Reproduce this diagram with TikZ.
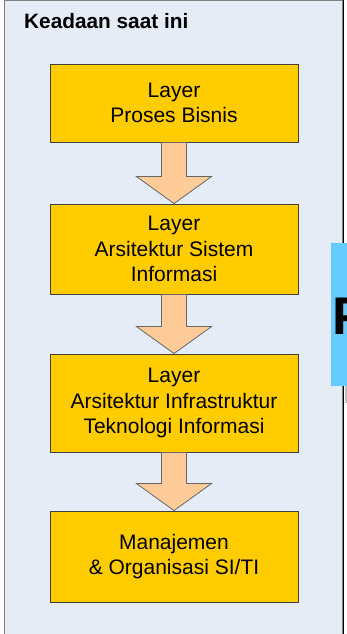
\documentclass[tikz,border=0pt]{standalone}
\usepackage{fontspec}
\setmainfont{Liberation Sans}
\usetikzlibrary{calc}
\definecolor{panelbg}{HTML}{E6ECF6}
\definecolor{layerfill}{HTML}{FFCC00}
\definecolor{arrowfill}{HTML}{FFCC99}
\definecolor{nextfill}{HTML}{66CCFF}
\begin{document}
\begin{tikzpicture}[x=1pt,y=-1pt,
  layer/.style={draw=black!75, fill=layerfill, line width=0.9pt, minimum width=248pt,
    align=center, inner sep=0pt, font=\fontsize{21}{25.5}\selectfont},
  blockarrow/.style={draw=black!60, fill=arrowfill, line width=0.8pt, line join=miter}]
\useasboundingbox (0,0) rectangle (347,634);
\node[draw=black!50, fill=panelbg, line width=1.2pt, minimum width=338pt, minimum height=660pt, inner sep=0pt] (frame) at (173.5,330.5) {};
\draw[black, line width=1pt] (frame.north east) -- (frame.south east);
\node[anchor=base west, inner sep=0pt, font=\bfseries\fontsize{20.8}{25}\selectfont] (title) at (24,28.7) {Keadaan saat ini};
\node[layer, minimum height=78pt] (l1) at (174,103) {Layer\\Proses Bisnis};
\node[layer, minimum height=90pt] (l2) at (174,249) {Layer\\Arsitektur Sistem\\Informasi};
\node[layer, minimum height=98pt] (l3) at (174,403) {Layer\\Arsitektur Infrastruktur\\Teknologi Informasi};
\node[layer, minimum height=91pt] (l4) at (174,556.5) {Manajemen\\\& Organisasi SI/TI};
\path[blockarrow] ($(l1.south)+(-12.5,0)$) -- ($(l2.north)+(-12.5,-27)$) -- ($(l2.north)+(-37.5,-27)$) -- (l2.north) -- ($(l2.north)+(37.5,-27)$) -- ($(l2.north)+(12.5,-27)$) -- ($(l1.south)+(12.5,0)$) -- cycle;
\path[blockarrow] ($(l2.south)+(-12.5,0)$) -- ($(l3.north)+(-12.5,-27)$) -- ($(l3.north)+(-37.5,-27)$) -- (l3.north) -- ($(l3.north)+(37.5,-27)$) -- ($(l3.north)+(12.5,-27)$) -- ($(l2.south)+(12.5,0)$) -- cycle;
\path[blockarrow] ($(l3.south)+(-12.5,0)$) -- ($(l4.north)+(-12.5,-27)$) -- ($(l4.north)+(-37.5,-27)$) -- (l4.north) -- ($(l4.north)+(37.5,-27)$) -- ($(l4.north)+(12.5,-27)$) -- ($(l3.south)+(12.5,0)$) -- cycle;
\node[fill=nextfill, anchor=north west, minimum width=30pt, minimum height=143.4pt, inner sep=0pt] (next) at (331,242.3) {};
\node[anchor=base west, inner sep=0pt, font=\bfseries\fontsize{53}{60}\selectfont] (nextlbl) at (332,334) {P};
\coordinate (s1) at (346,386);
\coordinate (s2) at (346,403);
\draw[black!25, line width=1.5pt] (s1) -- (s2);
\end{tikzpicture}
\end{document}
